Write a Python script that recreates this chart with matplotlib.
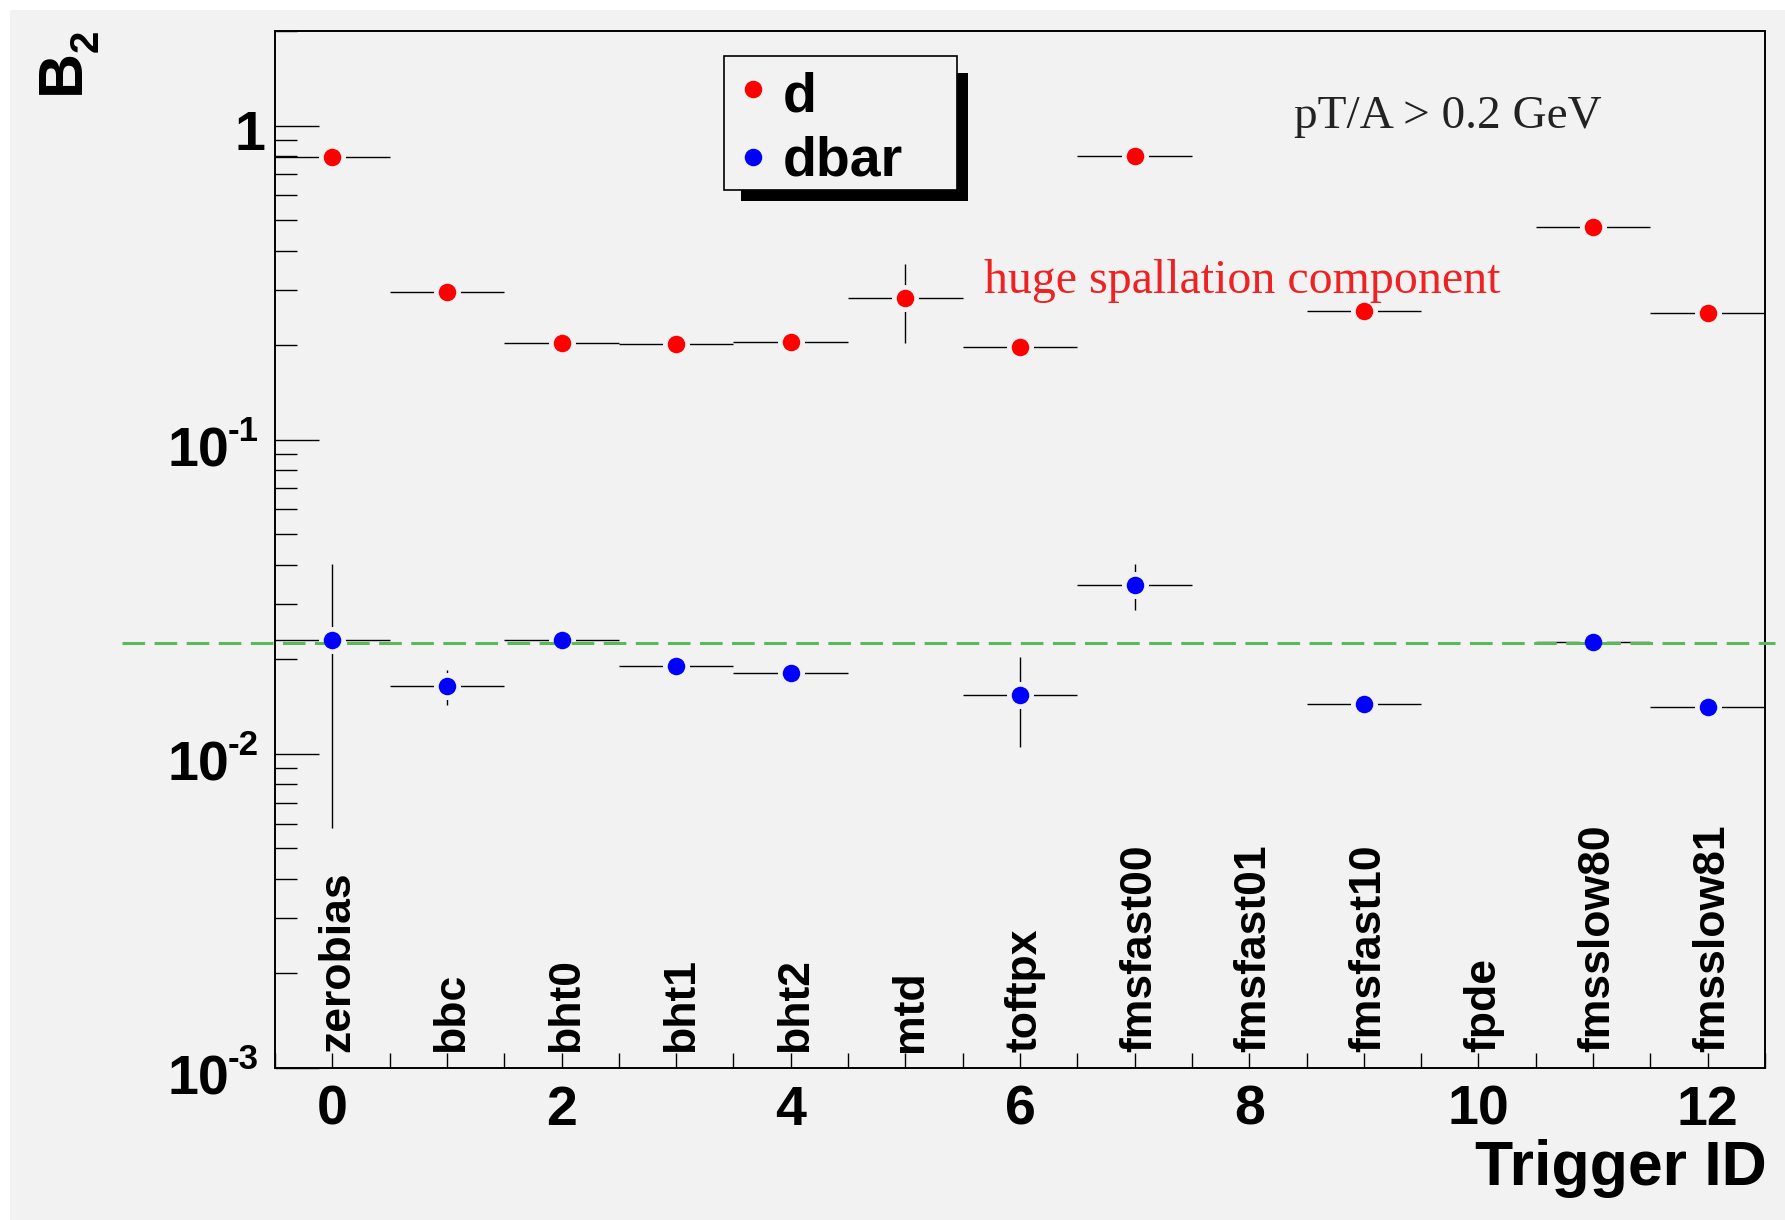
import math
import matplotlib
matplotlib.use('Agg')
import matplotlib.pyplot as plt
from matplotlib.patches import Rectangle
from matplotlib.lines import Line2D
from matplotlib.ticker import MultipleLocator, LogLocator, NullFormatter
import matplotlib.transforms as mtransforms

# ---------------- data ----------------
trigger_names = ['zerobias', 'bbc', 'bht0', 'bht1', 'bht2', 'mtd', 'toftpx',
                 'fmsfast00', 'fmsfast01', 'fmsfast10', 'fpde', 'fmsslow80', 'fmsslow81']
trigger_ids = list(range(len(trigger_names)))
bin_halfwidth = 0.5

series_labels = ['d', 'dbar']

d_x = [0, 1, 2, 3, 4, 5, 6, 7, 9, 11, 12]
d_y = [0.792, 0.296, 0.2025, 0.2018, 0.2045, 0.2825, 0.197, 0.801, 0.2562, 0.477, 0.2532]
d_err = [0, 0, 0, 0, 0, 0.079, 0, 0, 0, 0, 0]

dbar_x = [0, 1, 2, 3, 4, 6, 7, 9, 11, 12]
dbar_y = [0.0230, 0.01644, 0.0231, 0.0190, 0.01805, 0.01539, 0.0345, 0.0144, 0.02278, 0.01409]
dbar_err = [0.0172, 0.0021, 0, 0, 0, 0.0049, 0.0058, 0, 0, 0]

ref_level = 0.0225

y_major_ticks = [1e-3, 1e-2, 1e-1, 1]

note_cut = 'pT/A > 0.2 GeV'
note_spall = 'huge spallation component'

# ---------------- style ----------------
W, H, DPI = 1785, 1220, 100
BG = '#f2f2f2'
RED = '#ff0000'
BLUE = '#0000ff'

plt.rcParams['font.family'] = ['Liberation Sans', 'DejaVu Sans']
plt.rcParams['font.weight'] = 'bold'

def fx(px):
    return px / W

def fy(py):
    return 1 - py / H

PX2PT = 72.0 / DPI

fig = plt.figure(figsize=(W / DPI, H / DPI), dpi=DPI, facecolor='white')
fig.add_artist(Rectangle((fx(9.6), 0), 1 - fx(9.6), fy(10), transform=fig.transFigure,
                         facecolor=BG, edgecolor='none', zorder=-10))

L, R, T, B = 275, 1765, 31, 1068
ax = fig.add_axes([fx(L), fy(B), (R - L) / W, (B - T) / H])
ax.set_facecolor(BG)
ax.set_yscale('log')
ax.set_ylim(1e-3, 2.0)
ax.set_xlim(-0.5, 12.5)

for s in ax.spines.values():
    s.set_linewidth(1.4)

# error bars + markers (ROOT style: gap between marker and error lines)
MS_FACE = 12.6
MS_RING = 16.0
MEW_RING = 3.42
for xs, ys, es, col in [(d_x, d_y, d_err, RED), (dbar_x, dbar_y, dbar_err, BLUE)]:
    ax.errorbar(xs, ys, xerr=bin_halfwidth, yerr=es, fmt='none', ecolor='black',
                elinewidth=1.0, capsize=0, zorder=2)
    ax.plot(xs, ys, 'o', ls='none', ms=MS_RING, mfc=BG, mec=BG, mew=MEW_RING, zorder=2.5)
    ax.plot(xs, ys, 'o', ls='none', ms=MS_FACE, mfc=col, mec='none', zorder=4)

# reference dashed line (extends beyond the frame like the original)
blend = mtransforms.blended_transform_factory(ax.transAxes, ax.transData)
ax.plot([(122 - L) / (R - L), (1775 - L) / (R - L)], [ref_level, ref_level],
        transform=blend, color='#5cb85c', lw=2.2, dashes=(7.4, 3.1), clip_on=False, zorder=3)

# x ticks
ax.xaxis.set_major_locator(MultipleLocator(2))
ax.xaxis.set_minor_locator(MultipleLocator(0.5))
ax.tick_params(axis='x', which='both', direction='in', length=10.8, width=1.0,
               top=False, bottom=True, labelsize=40, pad=12)

# y ticks (labels drawn manually to mimic ROOT's superscripts)
ax.set_yticks(y_major_ticks)
ax.yaxis.set_minor_locator(LogLocator(base=10, subs=range(2, 10), numticks=20))
ax.yaxis.set_minor_formatter(NullFormatter())
ax.tick_params(axis='y', which='major', direction='in', length=32, width=1.0,
               right=False, labelleft=False)
ax.tick_params(axis='y', which='minor', direction='in', length=16, width=1.0, right=False)

for v in y_major_ticks:
    e = int(round(math.log10(v)))
    if e == 0:
        tr = mtransforms.offset_copy(blend, fig=fig, y=-24 * PX2PT, units='points')
        ax.text((265 - L) / (R - L), v, '1', transform=tr, ha='right', va='baseline',
                fontsize=40, fontweight='bold', clip_on=False)
    else:
        tr_main = mtransforms.offset_copy(blend, fig=fig, y=-26.5 * PX2PT, units='points')
        ax.text((229 - L) / (R - L), v, '10', transform=tr_main, ha='right', va='baseline',
                fontsize=40, fontweight='bold', clip_on=False)
        tr_sup = mtransforms.offset_copy(blend, fig=fig, y=-1 * PX2PT, units='points')
        ax.text((228 - L) / (R - L), v, '-%d' % (-e), transform=tr_sup, ha='left',
                va='baseline', fontsize=25, fontweight='bold', clip_on=False)

# bin labels
blend_xl = mtransforms.blended_transform_factory(ax.transData, ax.transAxes)
tr_bl = mtransforms.offset_copy(blend_xl, fig=fig, x=5 * PX2PT, units='points')
for i, name in zip(trigger_ids, trigger_names):
    ax.text(i, (B - 1052) / (B - T), name, transform=tr_bl, rotation=90,
            ha='center', va='bottom', fontsize=32, fontweight='bold', zorder=5)

# axis titles
fig.text(fx(1767), fy(1185), 'Trigger ID', ha='right', va='baseline',
         fontsize=45, fontweight='bold')
fig.text(fx(79), fy(94), 'B', rotation=90, rotation_mode='anchor', ha='left',
         va='baseline', fontsize=45, fontweight='bold')
fig.text(fx(98), fy(52.5), '2', rotation=90, rotation_mode='anchor', ha='left',
         va='baseline', fontsize=29, fontweight='bold')

# annotations
fig.text(fx(1294), fy(128), note_cut, family='Liberation Serif', fontweight='normal',
         fontsize=34, color='#222222', va='baseline')
fig.text(fx(984), fy(293), note_spall, family='Liberation Serif', fontweight='normal',
         fontsize=34.5, color='#ee2222', va='baseline')

# legend (ROOT style with shadow)
fig.add_artist(Rectangle((fx(741), fy(201)), (968 - 741) / W, (201 - 73) / H,
                         transform=fig.transFigure, facecolor='black', edgecolor='none', zorder=5))
fig.add_artist(Rectangle((fx(724), fy(190)), (957 - 724) / W, (190 - 56) / H,
                         transform=fig.transFigure, facecolor=BG, edgecolor='black',
                         lw=1.2, zorder=6))
for lab, col, my, by in [(series_labels[0], RED, 89.3, 112), (series_labels[1], BLUE, 156.7, 175.7)]:
    fig.add_artist(Line2D([fx(752.6)], [fy(my)], marker='o', ls='none', ms=MS_FACE,
                          mfc=col, mec='none', transform=fig.transFigure, zorder=7))
    fig.text(fx(783), fy(by), lab, fontsize=40, fontweight='bold', va='baseline', zorder=7)

fig.savefig('out.png', dpi=DPI, facecolor=fig.get_facecolor())
